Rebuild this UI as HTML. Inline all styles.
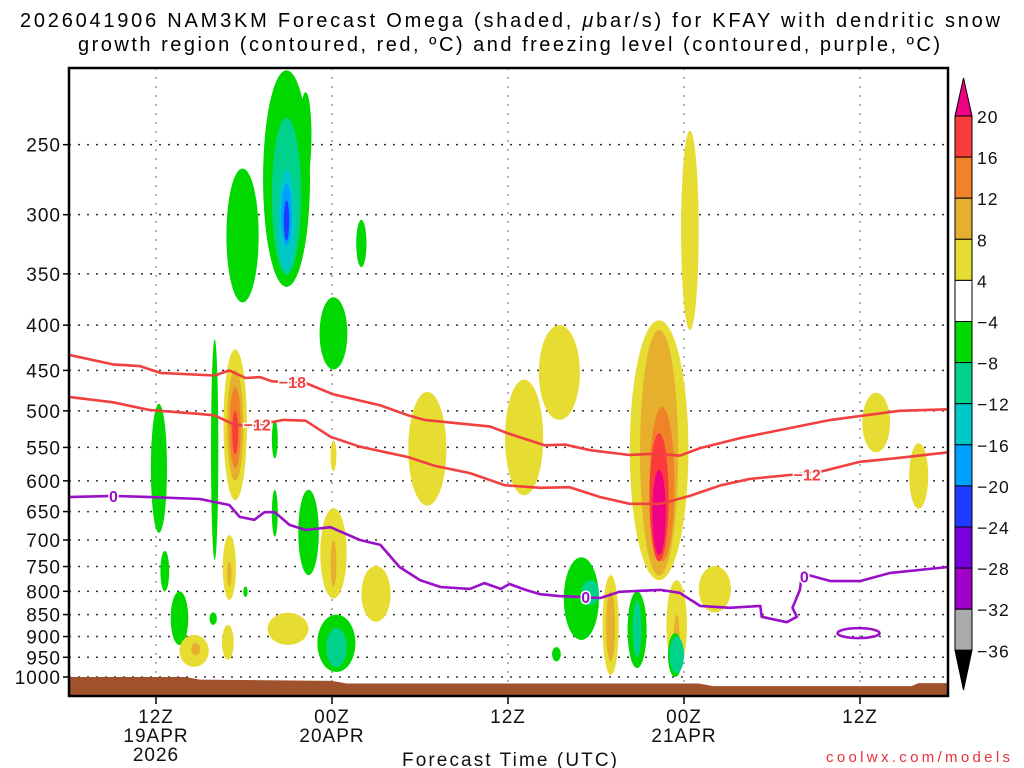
<!DOCTYPE html>
<html><head><meta charset="utf-8"><style>
html,body{margin:0;padding:0;background:#fff;}
svg{display:block;font-family:"Liberation Sans",sans-serif;}
</style></head><body>
<svg id="chart" width="1024" height="768" viewBox="0 0 1024 768" xmlns="http://www.w3.org/2000/svg">
<g font-size="20" fill="#000">
<text x="20" y="27" textLength="980" lengthAdjust="spacing">2026041906 NAM3KM Forecast Omega (shaded, <tspan font-style="italic">μ</tspan>bar/s) for KFAY with dendritic snow</text>
<text x="78" y="51" textLength="862" lengthAdjust="spacing">growth region (contoured, red, ºC) and freezing level (contoured, purple, ºC)</text>
</g>
<g id="grid"></g>
<g id="shade"></g>
<g id="ground"></g>
<g id="lines"></g>
<rect x="69" y="68" width="879" height="628" fill="none" stroke="#000" stroke-width="2.5"/>
<g id="axes" font-size="19" fill="#111" letter-spacing="1"></g>
<text x="402" y="766" font-size="19" textLength="215" lengthAdjust="spacing" fill="#111">Forecast Time (UTC)</text>
<text x="826" y="762" font-size="15" textLength="184" lengthAdjust="spacing" fill="#e8303a">coolwx.com/models</text>
<g id="cbar" font-size="17.5" fill="#111" letter-spacing="1"></g>
</svg>
<script>
// ---- data ----
const pTicks=[250,300,350,400,450,500,550,600,650,700,750,800,850,900,950,1000];
const xTickHours=[6,18,30,42,54];
const xTickLabels=[["12Z","19APR","2026"],["00Z","20APR"],["12Z"],["00Z","21APR"],["12Z"]];
const levelColors=["#00d800","#00d28c","#00c8c8","#00a0ff","#1e3cff","#7800dc","#a000c8","#aaaaaa","#e6dc32","#e6af2d","#f08228","#fa3c3c","#f00082"];
const cbarLabels=["20","16","12","8","4","−4","−8","−12","−16","−20","−24","−28","−32","−36"];
const cbarColors=["#fa3c3c","#f08228","#e6af2d","#e6dc32","#ffffff","#00d800","#00d28c","#00c8c8","#00a0ff","#1e3cff","#7800dc","#a000c8","#aaaaaa"];
// blobs: hour, half-width (h), top p, bottom p, level colour index
const blobHour=[14.9,16.2,14.9,14.9,14.9,14.9,11.9,20,18.1, 10,11.4,11.4,11.4,11.4, 6.2,6.6,7.6, 14.1,14.1,16.4, 11.0,11.0,18.1,18.1,21,15,18.3,18.3,8.6,8.7,10.9,9.9,12.1,18.1, 24.5,31.1,33.5, 42.4,40.3,40.3,40.5,40.3,40.3,41.5,41.5, 35,35.6,33.3,37,37,38.8,38.8,41.4,41.5,44.1,55.1,58];
const blobHalf=[1.6,0.4,1.0,0.6,0.35,0.18,1.1,0.35,0.95, 0.25,0.8,0.55,0.38,0.2, 0.55,0.3,0.6, 0.2,0.2,0.7, 0.45,0.15,0.9,0.2,1.0,1.4,1.3,0.7,1.0,0.3,0.4,0.25,0.15,0.2, 1.3,1.3,1.4, 0.6,2.0,1.3,0.85,0.65,0.45,0.7,0.2, 1.2,0.6,0.3,0.55,0.3,0.65,0.3,0.5,0.5,1.1,0.95,0.65];
const blobTop=[206,218,233,267,277,289,266,304,372, 415,426,450,470,500, 491,720,800, 512,614,614, 691,740,644,700,749,846,850,880,896,915,873,845,790,540, 476,461,400, 241,395,405,495,530,583,777,850, 732,777,925,767,800,800,820,892,900,749,477,544];
const blobBot=[362,274,351,347,325,321,377,344,449, 737,631,600,580,560, 687,800,920, 566,694,767, 818,790,815,790,866,920,987,975,974,945,956,873,812,585, 640,623,512, 405,777,768,740,740,728,982,960, 908,829,960,995,960,977,950,1000,990,845,557,645];
const blobLevel=[0,0,1,2,3,4,0,0,0, 0,8,9,10,11, 0,0,0, 0,0,0, 8,9,8,9,8,8,0,1,8,9,8,0,0,8, 8,8,8, 8,8,9,10,11,12,8,9, 0,1,0,8,9,0,1,0,1,8,8,8];
// red -18 line
const red18Hours=[0,3.07,4.9,6.3,10.0,11.0,12.1,13.1,13.9,16.2,18.1,21.3,23.2,24.3,28.8,30.1,32.5,33.9,35.6,38.3,40.0,41.7,43.1,45.8,49.2,52.0,56.7,60];
const red18P=[432,443,445,453,456,450,459,458,463,465,479,493,506,512,521,531,547,546,554,561,559,562,551,537,523,512,500,498];
// red -12 line
const red12Hours=[0,3.07,5.6,9.0,10.0,11.2,12.3,14.7,16.2,17.9,19.9,23.2,25.0,27.4,29.8,32.2,34.2,36.3,38.3,40.4,42.4,44.5,46.5,49.2,51.3,54.0,56.7,60];
const red12P=[482,489,499,504,506,517,521,512,513,535,549,564,577,588,607,611,610,626,637,637,624,607,597,591,586,571,565,557];
// purple 0C line
const frzHours=[0,3.07,5.6,9.0,10.0,11.0,11.7,12.7,13.4,14.1,15.1,16.2,17.9,19.9,21.3,22.6,24.0,25.4,27.4,28.4,29.5,30.1,31.2,32.2,33.5,35.0,36.3,37.6,39.0,40.4,41.7,43.1,45.1,47.2,47.3,49.0,49.7,49.4,49.9,50.0];
const frzP=[626,624,626,629,634,639,659,664,651,651,673,682,677,700,709,751,777,791,795,783,795,785,797,806,810,812,814,801,799,797,803,831,835,831,855,867,855,835,797,773];
const frz2Hours=[50.5,52.0,54.0,56.0,60];
const frz2P=[767,779,779,763,751];
const loopHour=[53.9], loopP=[892];
const surfHours=[0,8,9,18,19,43,44,57.5,58,60];
const surfP=[1000,1000,1007,1010,1017,1017,1024,1024,1016,1016];
// ---- scales ----
const X0=69,X1=948,Y0=68,Y1=696;
const xs=h=>68+h*14.667;
const ys=p=>677-384*Math.log(1000/p);
const NS="http://www.w3.org/2000/svg";
function mk(tag,parent,attrs){const e=document.createElementNS(NS,tag);for(const k in attrs)e.setAttribute(k,attrs[k]);parent.appendChild(e);return e;}
const grid=document.getElementById('grid'),shade=document.getElementById('shade'),lines=document.getElementById('lines'),axes=document.getElementById('axes'),cbar=document.getElementById('cbar'),ground=document.getElementById('ground');
pTicks.forEach(p=>{const y=ys(p);
 const l=mk('line',grid,{x1:X0,x2:X1,y1:y,y2:y,stroke:'#333','stroke-width':1.5,'stroke-dasharray':'2 7'});
 
 
 const t=mk('text',axes,{x:61,y:y+7,'text-anchor':'end'});t.textContent=p;
 
 
 const tk=mk('line',axes,{x1:X0-6,x2:X0,y1:y,y2:y,stroke:'#000','stroke-width':1.5});
 
 
});
xTickHours.forEach((h,i)=>{const x=xs(h);
 const l=mk('line',grid,{x1:x,x2:x,y1:Y0,y2:Y1,stroke:'#999','stroke-width':1.5,'stroke-dasharray':'2 7'});
 
 
 const tk=mk('line',axes,{x1:x,x2:x,y1:Y1,y2:Y1+8,stroke:'#000','stroke-width':1.5});
 
 
 xTickLabels[i].forEach((s,j)=>{const t=mk('text',axes,{x:x,y:723+j*19,'text-anchor':'middle'});t.textContent=s;
  
  });
});
blobHour.forEach((h,i)=>{const yt=ys(blobTop[i]),yb=ys(blobBot[i]);
 const e=mk('ellipse',shade,{cx:xs(h),cy:(yt+yb)/2,rx:blobHalf[i]*14.667,ry:(yb-yt)/2,fill:levelColors[blobLevel[i]]});
 
 
});
let gd='M'+X0+' '+Y1;surfHours.forEach((h,i)=>{gd+=' L'+Math.max(X0,Math.min(X1,xs(h)))+' '+ys(surfP[i]);});gd+=' L'+X1+' '+Y1+' Z';
const g=mk('path',ground,{d:gd,fill:'#a0522d'});


function line(hs,ps,col,name){const d=hs.map((h,i)=>(i?'L':'M')+xs(h).toFixed(1)+' '+ys(ps[i]).toFixed(1)).join(' ');
 const e=mk('path',lines,{d:d,fill:'none',stroke:col,'stroke-width':2.6,'stroke-linejoin':'round'});
 
 }
line(red18Hours,red18P,'#f04040','contour-minus18');
line(red12Hours,red12P,'#f04040','contour-minus12');
line(frzHours,frzP,'#9a0fc8','freezing-level');
line(frz2Hours,frz2P,'#9a0fc8','freezing-level-east');
const lp=mk('ellipse',lines,{cx:xs(loopHour[0]),cy:ys(loopP[0]),rx:21,ry:5,fill:'none',stroke:'#9a0fc8','stroke-width':2.6});


function lab(h,p,s,col){const t=mk('text',lines,{x:xs(h),y:ys(p)+6,'text-anchor':'middle','font-size':16,'font-weight':'bold',fill:col,stroke:'#fff','stroke-width':3,'paint-order':'stroke'});t.textContent=s;
 
 }
lab(15.3,464,'−18','#f04040');lab(12.9,518,'−12','#f04040');lab(50.4,590,'−12','#f04040');
lab(3.1,624,'0','#9a0fc8');lab(35.3,812,'0','#9a0fc8');lab(50.2,770,'0','#9a0fc8');
const cb0=116,cbh=41.1,cx0=955,cw=17;
mk('polygon',cbar,{points:`${cx0},${cb0} ${cx0+cw},${cb0} ${cx0+cw/2},78`,fill:'#f00082',stroke:'#000'});
cbarColors.forEach((c,i)=>{const r=mk('rect',cbar,{x:cx0,y:cb0+i*cbh,width:cw,height:cbh,fill:c,stroke:'#000','stroke-width':1});
 
 });
const yb=cb0+13*cbh;
mk('polygon',cbar,{points:`${cx0},${yb} ${cx0+cw},${yb} ${cx0+cw/2},690`,fill:'#000',stroke:'#000'});
cbarLabels.forEach((s,i)=>{const t=mk('text',cbar,{x:977,y:cb0+i*cbh+7});t.textContent=s;
 
 });
</script>
</body></html>
